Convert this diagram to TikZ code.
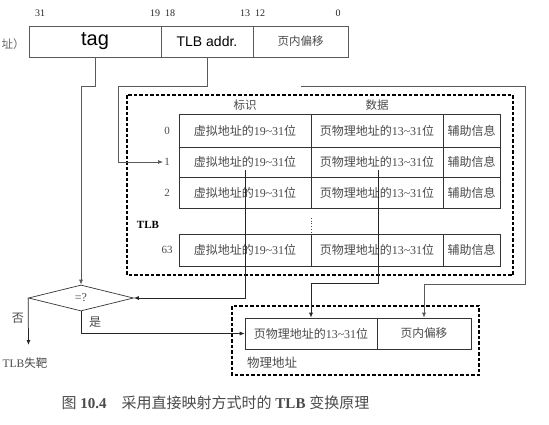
\documentclass[tikz,border=0pt]{standalone}
\usepackage{fontspec}
\setmainfont{Liberation Serif}
\newfontfamily\cjk{Noto Sans CJK SC}
\newfontfamily\arialf{Liberation Sans}
\usetikzlibrary{arrows.meta,shapes.geometric,calc}
\definecolor{txtg}{HTML}{4A4A4A}
\definecolor{lineg}{HTML}{5A5A5A}
\newcommand\vaddrtxt{{\cjk 虚拟地址的}19\textasciitilde31{\cjk 位}}
\newcommand\paddrtxt{{\cjk 页物理地址的}13\textasciitilde31{\cjk 位}}
\newcommand\auxtxt{{\cjk 辅助信息}}
\begin{document}
\begin{tikzpicture}[x=1pt,y=-1pt,
  fieldbox/.style={draw=lineg,line width=0.7pt,inner sep=0pt,minimum height=31},
  cellbox/.style={draw=black!80,line width=0.6pt,inner sep=0pt,text=txtg,font=\fontsize{12}{14}\selectfont},
  lbl/.style={inner sep=1pt,text=txtg,font=\fontsize{11.5}{13}\selectfont},
  bitlbl/.style={inner sep=0pt,text=black!85,font=\fontsize{10}{12}\selectfont},
  dashbox/.style={draw=black,line width=1.6pt,dash pattern=on 3.5pt off 2pt},
  conn/.style={draw=black!85,line width=0.75pt},
  connarr/.style={conn,-{Latex[length=5pt,width=4pt]}},
  decide/.style={diamond,draw=black!80,line width=0.7pt,inner sep=0pt,aspect=4,minimum width=105,minimum height=26,text=txtg,font=\fontsize{12}{14}\selectfont}
]
\useasboundingbox (0,0) rectangle (549,424);

% virtual address fields
\node[fieldbox,minimum width=132,font=\arialf\fontsize{20}{22}\selectfont] (tagf) at (95,41.5) {tag};
\node[fieldbox,minimum width=92,font=\arialf\fontsize{14}{16}\selectfont] (addrf) at (207,41.5) {TLB addr.};
\node[fieldbox,minimum width=95,text=txtg,font=\fontsize{11.5}{13}\selectfont] (offf) at (300.5,41.5) {\cjk 页内偏移};
\node[lbl,anchor=west,text=black!60] (vlbl) at (0.5,44) {\cjk 址）};

\node[bitlbl] (b31) at (40,13) {31};
\node[bitlbl] (b19) at (155,13) {19};
\node[bitlbl] (b18) at (170,13) {18};
\node[bitlbl] (b13) at (245,13) {13};
\node[bitlbl] (b12) at (260,13) {12};
\node[bitlbl] (b0) at (338,13) {0};

% TLB table
\draw[dashbox] (127,95) rectangle (513,275);
\node[lbl] (hid) at (245,105) {\cjk 标识};
\node[lbl] (hdata) at (377,105) {\cjk 数据};
\foreach \r/\yc/\h in {0/130.5/33,1/162/30,2/192.5/31,63/250/32} {
  \node[cellbox,minimum width=132,minimum height=\h] (v\r) at (245,\yc) {\vaddrtxt};
  \node[cellbox,minimum width=132,minimum height=\h] (p\r) at (377,\yc) {\paddrtxt};
  \node[cellbox,minimum width=57,minimum height=\h] (a\r) at (471.5,\yc) {\auxtxt};
  \node[lbl,font=\fontsize{11}{13}\selectfont] (n\r) at (167,\yc) {\r};
}
\node[lbl,font=\bfseries\fontsize{11}{13}\selectfont,text=black] (tlbl) at (148,225) {TLB};
\draw[black!70,line width=0.7pt,dotted] (311,218) -- (311,232);

% comparator
\node[decide] (dia) at (81,298) {=?};
\node[lbl,font=\fontsize{12}{14}\selectfont] (no) at (18,318) {\cjk 否};
\node[lbl,font=\fontsize{12}{14}\selectfont] (yes) at (95,322) {\cjk 是};
\node[lbl] (miss) at (25,363) {TLB{\cjk 失靶}};

% physical address
\draw[dashbox] (232,306) rectangle (479,375);
\node[cellbox,minimum width=132,minimum height=31] (ppn) at (311,333.5) {\paddrtxt};
\node[cellbox,minimum width=94,minimum height=31,font=\fontsize{11.7}{14}\selectfont] (pf) at (424,333.5) {\cjk 页内偏移};
\node[lbl,font=\fontsize{12.5}{14}\selectfont] (plbl) at (272,363) {\cjk 物理地址};

% caption
\node[inner sep=0pt,text=txtg,font=\fontsize{15}{17}\selectfont] (cap) at (215.5,403)
  {{\cjk 图} \textbf{10.4}\quad{\cjk 采用直接映射方式时的} \textbf{TLB} {\cjk 变换原理}};

% connectors
\coordinate (t1) at (81,86);
\draw[connarr,draw=lineg] (tagf.south) |- (t1) -- (dia.north);
\coordinate (a1) at (118,86);
\draw[connarr,draw=lineg] (addrf.south) |- (a1) |- (n1.west);
\coordinate (o0) at (301,86);
\coordinate (o1) at (525,284);
\draw[connarr,draw=lineg] (o0) -| (o1) -| (pf.north);
\coordinate (d1) at (378,283);
\draw[connarr] ($(p1.center)+(1,8)$) -- (d1) -| (ppn.north);
\coordinate (vv) at (245,298);
\draw[connarr] ($(v1.center)+(0,8)$) -- (vv) -- (dia.east);
\coordinate (m) at (28.5,345);
\draw[connarr] (dia.west) -- (m);
\draw[connarr] (dia.south) |- (ppn.west);
\end{tikzpicture}
\end{document}
